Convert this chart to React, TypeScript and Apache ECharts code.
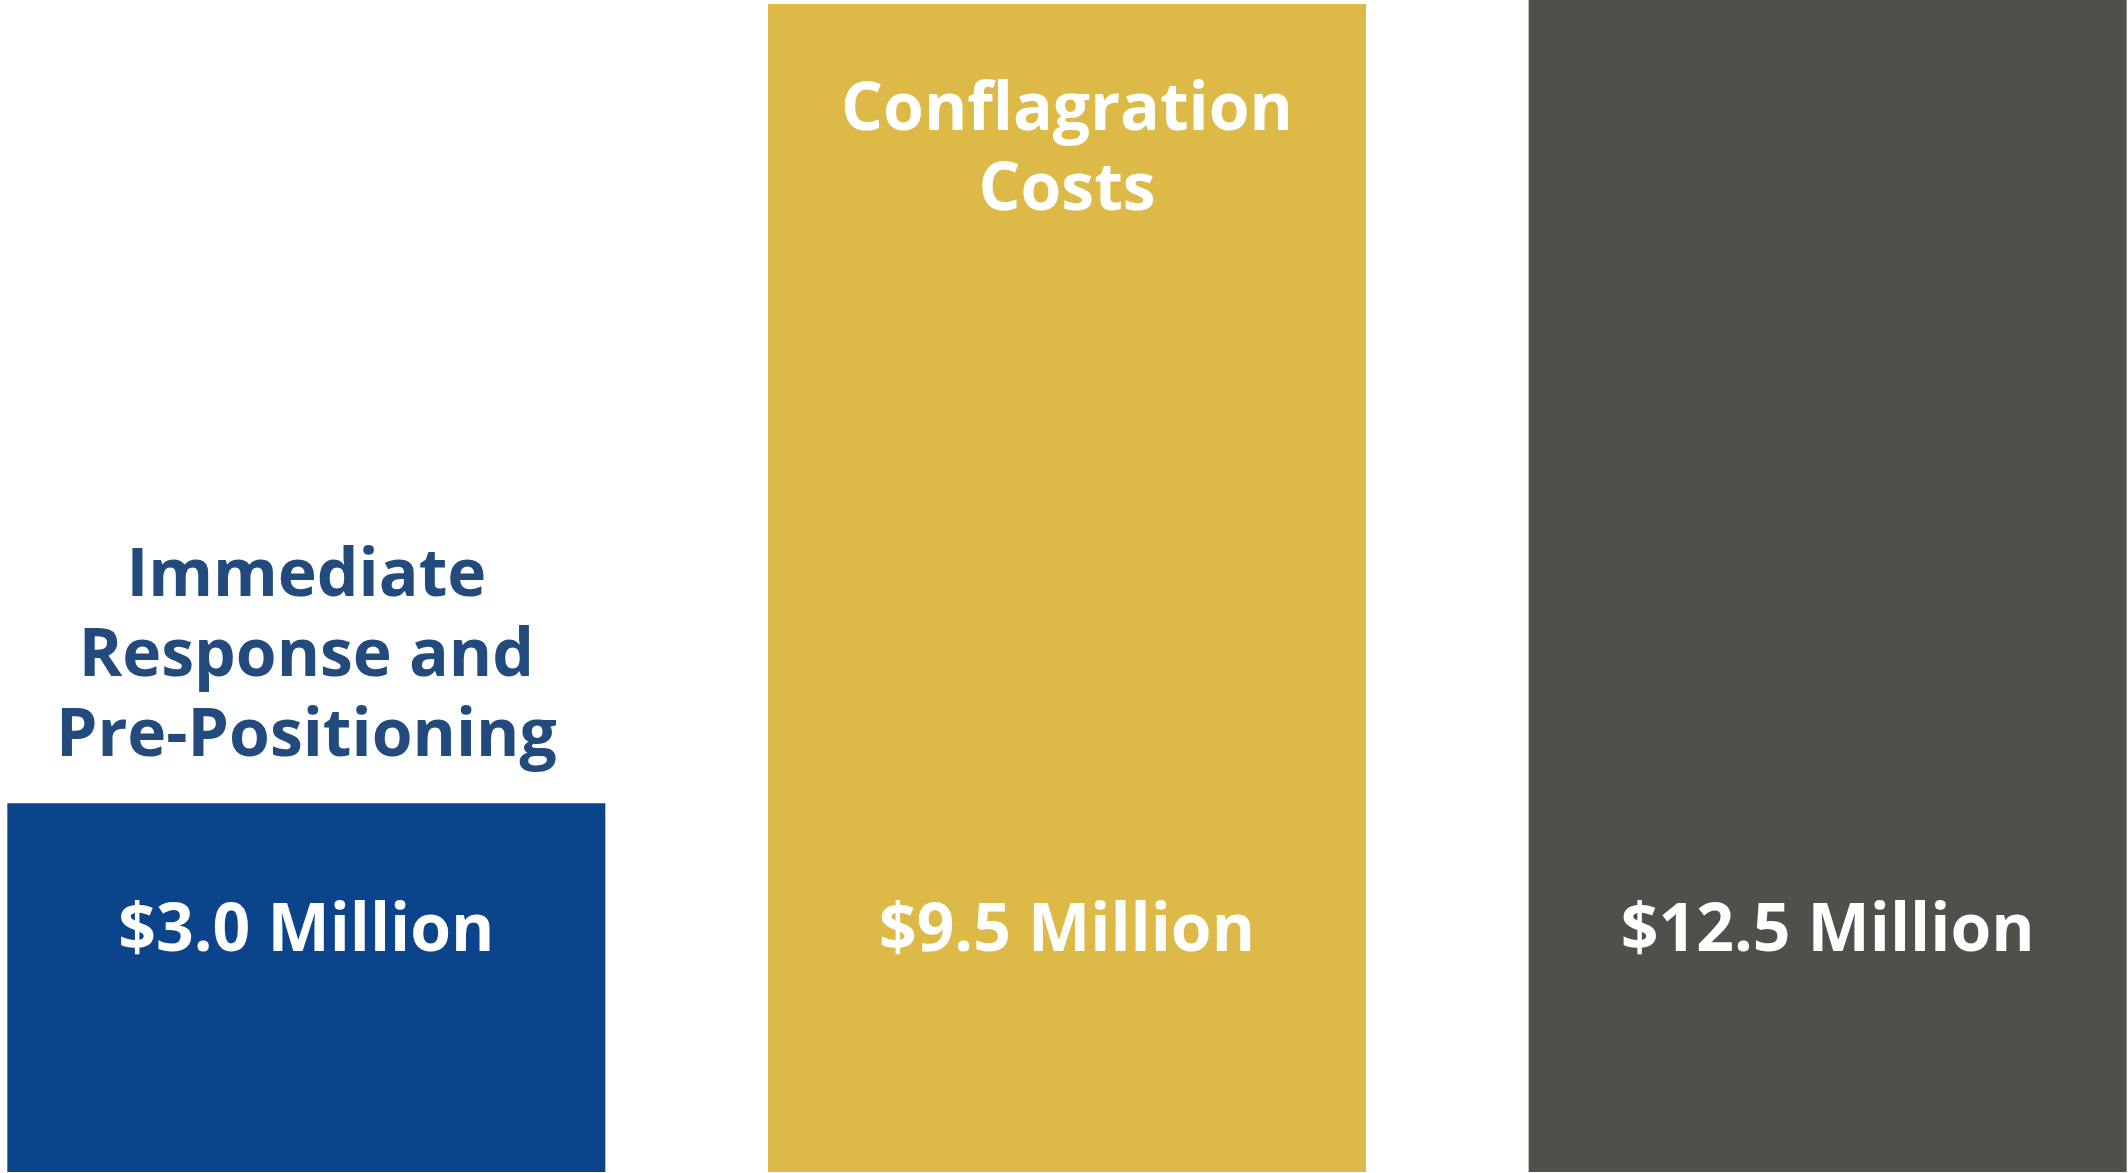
import React, { useEffect, useRef } from "react";
import * as echarts from "echarts";

const categories = ["Immediate Response and Pre-Positioning", "Conflagration Costs", "Total"];
const nameLabels = ["Immediate\nResponse and\nPre-Positioning", "Conflagration\nCosts", ""];
const values = [3.0, 9.5, 12.5];
const valueLabels = ["$3.0 Million", "$9.5 Million", "$12.5 Million"];
const barColors = ["#0C448C", "#DDBA47", "#4F504A"];

const FONT = "'Open Sans', 'Noto Sans', sans-serif";

export default function App() {
  const ref = useRef<HTMLDivElement>(null);
  useEffect(() => {
    if (!ref.current) return;
    const chart = echarts.init(ref.current, null, { renderer: "svg" });
    chart.setOption({
      animation: false,
      backgroundColor: "#FFFFFF",
      grid: { left: 0, right: 0, top: 0, bottom: 1, containLabel: false },
      xAxis: { type: "category", data: categories, show: false },
      yAxis: { type: "value", min: 0, max: 9.5325, show: false, splitLine: { show: false } },
      series: [
        {
          type: "bar",
          barWidth: 598,
          clip: true,
          data: values.map((v, i) => ({ value: v, itemStyle: { color: barColors[i] } })),
          label: {
            show: true,
            position: "insideBottom",
            distance: 207,
            formatter: (p: any) => valueLabels[p.dataIndex],
            color: "#FFFFFF",
            fontFamily: FONT,
            fontWeight: "bold",
            fontSize: 66,
            lineHeight: 80,
          },
        },
        {
          type: "bar",
          barWidth: 598,
          barGap: "-100%",
          clip: true,
          silent: true,
          z: 3,
          data: values.map((v, i) => ({
            value: v,
            itemStyle: { color: "rgba(0,0,0,0)" },
            label:
              i === 0
                ? { show: true, position: "top", distance: 33, color: "#224A7C" }
                : i === 1
                ? { show: true, position: "insideTop", distance: 60, color: "#FFFFFF" }
                : { show: false },
          })),
          label: {
            formatter: (p: any) => nameLabels[p.dataIndex],
            fontFamily: FONT,
            fontWeight: "bold",
            fontSize: 66,
            lineHeight: 80,
            align: "center",
          },
        },
      ],
    });
    return () => chart.dispose();
  }, []);
  return (
    <div
      style={{
        position: "absolute",
        left: 0,
        top: 0,
        width: 2128,
        height: 1173,
        overflow: "hidden",
        background: "#FFFFFF",
      }}
    >
      <div
        ref={ref}
        style={{ position: "absolute", left: -74, top: 0, width: 2282, height: 1173 }}
      />
    </div>
  );
}
